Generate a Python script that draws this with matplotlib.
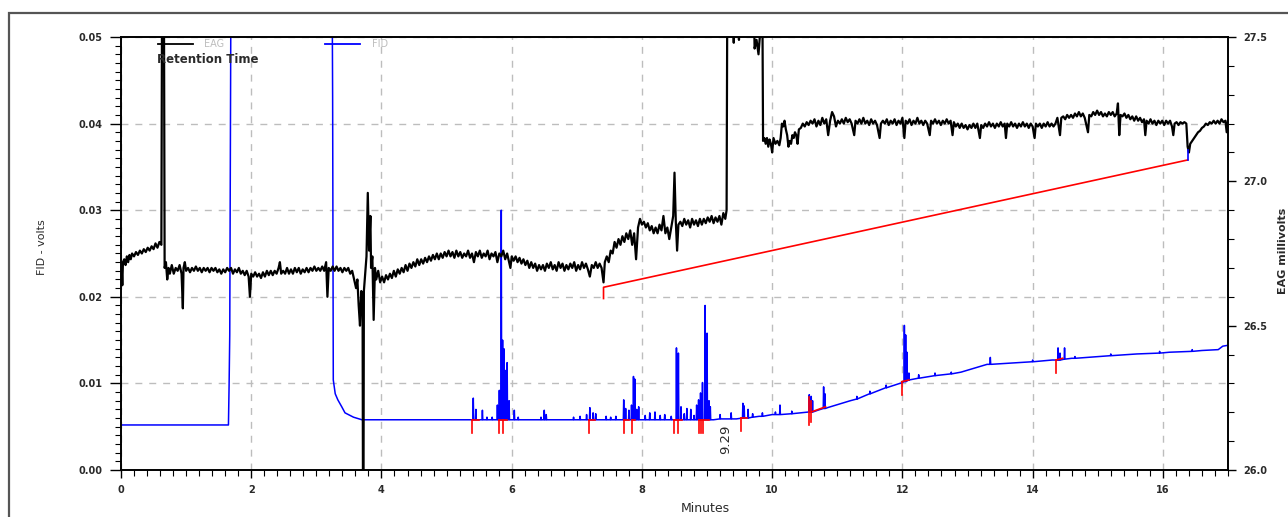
import matplotlib
matplotlib.use('Agg')
import matplotlib.pyplot as plt
from matplotlib.lines import Line2D
from matplotlib.patches import Rectangle
from matplotlib.ticker import MultipleLocator, FormatStrFormatter

# ---- data ----
# EAG signal, millivolts (right axis). Values above 27.5 / below 26.0 are clipped.
eag_points = [
    (0.00, 26.66), (0.01, 26.70), (0.02, 26.64), (0.03, 26.72), (0.05, 26.73), (0.07, 26.71),
    (0.09, 26.74), (0.11, 26.72), (0.13, 26.745), (0.15, 26.73), (0.17, 26.75), (0.20, 26.74),
    (0.23, 26.755), (0.26, 26.745), (0.29, 26.76), (0.32, 26.75), (0.35, 26.765), (0.38, 26.755),
    (0.41, 26.77), (0.44, 26.76), (0.47, 26.775), (0.50, 26.765), (0.53, 26.785), (0.56, 26.77),
    (0.59, 26.79), (0.62, 26.78), (0.63, 27.60), (0.66, 27.60), (0.67, 26.70),
    (0.69, 26.72), (0.71, 26.66), (0.73, 26.70), (0.75, 26.68), (0.78, 26.71), (0.81, 26.68),
    (0.84, 26.70), (0.87, 26.69), (0.90, 26.71), (0.93, 26.68), (0.95, 26.56), (0.96, 26.70),
    (0.98, 26.72), (1.00, 26.69), (1.03, 26.70), (1.06, 26.685), (1.09, 26.70), (1.12, 26.69),
    (1.15, 26.705), (1.18, 26.69), (1.21, 26.70), (1.24, 26.685), (1.27, 26.70), (1.30, 26.69),
    (1.33, 26.70), (1.36, 26.685), (1.39, 26.70), (1.42, 26.69), (1.45, 26.70), (1.48, 26.685),
    (1.51, 26.695), (1.54, 26.68), (1.57, 26.695), (1.60, 26.685), (1.63, 26.70), (1.66, 26.69),
    (1.69, 26.70), (1.72, 26.68), (1.75, 26.695), (1.78, 26.685), (1.81, 26.70), (1.84, 26.68),
    (1.87, 26.69), (1.90, 26.675), (1.93, 26.69), (1.96, 26.67), (1.98, 26.60), (2.00, 26.68),
    (2.03, 26.67), (2.06, 26.685), (2.09, 26.67), (2.12, 26.68), (2.15, 26.665), (2.18, 26.685),
    (2.21, 26.67), (2.24, 26.69), (2.27, 26.675), (2.30, 26.69), (2.33, 26.675), (2.36, 26.69),
    (2.39, 26.68), (2.42, 26.70), (2.44, 26.72), (2.46, 26.68), (2.49, 26.69), (2.52, 26.68),
    (2.55, 26.70), (2.58, 26.68), (2.61, 26.695), (2.64, 26.68), (2.67, 26.70), (2.70, 26.685),
    (2.73, 26.70), (2.76, 26.68), (2.79, 26.695), (2.82, 26.685), (2.85, 26.70), (2.88, 26.685),
    (2.91, 26.70), (2.94, 26.69), (2.97, 26.705), (3.00, 26.69), (3.03, 26.70), (3.06, 26.69),
    (3.09, 26.705), (3.12, 26.69), (3.15, 26.72), (3.17, 26.60), (3.19, 26.70), (3.22, 26.69),
    (3.25, 26.705), (3.28, 26.69), (3.31, 26.705), (3.34, 26.69), (3.37, 26.70), (3.40, 26.685),
    (3.43, 26.70), (3.46, 26.69), (3.49, 26.70), (3.52, 26.68), (3.55, 26.69), (3.58, 26.66),
    (3.61, 26.63), (3.63, 26.66), (3.65, 26.57), (3.67, 26.50), (3.69, 26.62), (3.71, 26.55),
    (3.72, 25.50), (3.73, 26.62), (3.75, 26.68), (3.77, 26.74), (3.79, 26.96), (3.81, 26.76),
    (3.83, 26.88), (3.84, 26.70), (3.86, 26.74), (3.88, 26.52), (3.90, 26.70), (3.92, 26.66),
    (3.95, 26.69), (3.98, 26.65), (4.01, 26.67), (4.04, 26.65), (4.07, 26.675), (4.10, 26.66),
    (4.13, 26.68), (4.16, 26.665), (4.19, 26.69), (4.22, 26.67), (4.25, 26.695), (4.28, 26.68),
    (4.31, 26.70), (4.34, 26.685), (4.37, 26.71), (4.40, 26.69), (4.43, 26.715), (4.46, 26.70),
    (4.49, 26.72), (4.52, 26.705), (4.55, 26.73), (4.58, 26.71), (4.61, 26.73), (4.64, 26.715),
    (4.67, 26.735), (4.70, 26.72), (4.73, 26.74), (4.76, 26.725), (4.79, 26.745), (4.82, 26.73),
    (4.85, 26.75), (4.88, 26.73), (4.91, 26.75), (4.94, 26.735), (4.97, 26.755), (5.00, 26.74),
    (5.03, 26.76), (5.06, 26.74), (5.09, 26.755), (5.12, 26.735), (5.15, 26.76), (5.18, 26.74),
    (5.21, 26.755), (5.24, 26.735), (5.27, 26.75), (5.30, 26.74), (5.33, 26.76), (5.36, 26.735),
    (5.39, 26.75), (5.42, 26.72), (5.45, 26.755), (5.48, 26.74), (5.51, 26.76), (5.54, 26.735),
    (5.57, 26.75), (5.60, 26.74), (5.63, 26.76), (5.66, 26.73), (5.69, 26.75), (5.72, 26.74),
    (5.75, 26.755), (5.78, 26.72), (5.81, 26.75), (5.84, 26.74), (5.87, 26.76), (5.90, 26.73),
    (5.93, 26.75), (5.96, 26.72), (5.98, 26.70), (6.00, 26.74), (6.03, 26.725), (6.06, 26.74),
    (6.09, 26.72), (6.12, 26.735), (6.15, 26.715), (6.18, 26.73), (6.21, 26.71), (6.24, 26.725),
    (6.27, 26.70), (6.30, 26.72), (6.33, 26.70), (6.36, 26.715), (6.39, 26.69), (6.42, 26.71),
    (6.45, 26.695), (6.48, 26.71), (6.51, 26.69), (6.54, 26.715), (6.57, 26.70), (6.60, 26.72),
    (6.63, 26.695), (6.66, 26.71), (6.69, 26.69), (6.72, 26.72), (6.75, 26.70), (6.78, 26.715),
    (6.81, 26.69), (6.84, 26.71), (6.87, 26.695), (6.90, 26.715), (6.93, 26.70), (6.96, 26.72),
    (6.99, 26.69), (7.02, 26.71), (7.05, 26.695), (7.08, 26.72), (7.11, 26.70), (7.14, 26.715),
    (7.17, 26.695), (7.20, 26.67), (7.23, 26.71), (7.26, 26.70), (7.29, 26.72), (7.32, 26.70),
    (7.35, 26.715), (7.38, 26.70), (7.41, 26.65), (7.43, 26.72),
    (7.46, 26.74), (7.49, 26.72), (7.52, 26.76), (7.55, 26.75), (7.58, 26.79), (7.61, 26.77),
    (7.64, 26.80), (7.67, 26.78), (7.70, 26.81), (7.73, 26.79), (7.76, 26.82), (7.79, 26.80),
    (7.82, 26.83), (7.85, 26.78), (7.88, 26.82), (7.91, 26.73), (7.94, 26.84), (7.97, 26.87),
    (8.00, 26.85), (8.03, 26.86), (8.06, 26.84), (8.09, 26.855), (8.12, 26.83), (8.15, 26.845),
    (8.18, 26.82), (8.21, 26.84), (8.24, 26.82), (8.27, 26.85), (8.30, 26.83), (8.33, 26.88),
    (8.36, 26.82), (8.39, 26.84), (8.42, 26.80), (8.45, 26.84), (8.48, 26.88), (8.50, 27.03),
    (8.52, 26.86), (8.54, 26.76), (8.56, 26.85), (8.59, 26.86), (8.62, 26.845), (8.65, 26.87),
    (8.68, 26.85), (8.71, 26.865), (8.74, 26.84), (8.77, 26.87), (8.80, 26.85), (8.83, 26.865),
    (8.86, 26.845), (8.89, 26.87), (8.92, 26.85), (8.95, 26.87), (8.98, 26.855), (9.01, 26.875),
    (9.04, 26.86), (9.07, 26.88), (9.10, 26.855), (9.13, 26.875), (9.16, 26.86), (9.19, 26.88),
    (9.22, 26.85), (9.25, 26.89), (9.28, 26.87), (9.30, 26.90), (9.31, 27.60),
    (9.40, 27.60), (9.41, 27.48), (9.42, 27.60), (9.48, 27.60), (9.49, 27.49), (9.50, 27.60),
    (9.72, 27.60), (9.73, 27.46), (9.76, 27.49), (9.79, 27.44), (9.81, 27.50), (9.82, 27.60),
    (9.85, 27.60), (9.86, 27.14),
    (9.88, 27.15), (9.90, 27.13), (9.92, 27.15), (9.94, 27.12), (9.96, 27.145), (9.98, 27.13),
    (10.00, 27.10), (10.02, 27.15), (10.05, 27.13), (10.08, 27.14), (10.11, 27.125), (10.13, 27.15),
    (10.15, 27.20), (10.17, 27.19), (10.19, 27.21), (10.21, 27.18), (10.23, 27.16), (10.25, 27.12),
    (10.27, 27.14), (10.29, 27.13), (10.31, 27.16), (10.33, 27.15), (10.35, 27.17), (10.37, 27.16),
    (10.39, 27.13), (10.41, 27.18), (10.44, 27.185), (10.47, 27.20), (10.50, 27.19), (10.53, 27.205),
    (10.56, 27.195), (10.59, 27.21), (10.62, 27.20), (10.65, 27.215), (10.68, 27.19), (10.71, 27.21),
    (10.74, 27.195), (10.77, 27.22), (10.80, 27.20), (10.83, 27.215), (10.86, 27.16), (10.89, 27.21),
    (10.92, 27.24), (10.95, 27.225), (10.98, 27.19), (11.01, 27.21), (11.04, 27.20), (11.07, 27.215),
    (11.10, 27.20), (11.13, 27.22), (11.16, 27.205), (11.19, 27.215), (11.22, 27.20), (11.26, 27.16),
    (11.28, 27.21), (11.31, 27.20), (11.34, 27.215), (11.37, 27.20), (11.40, 27.22), (11.43, 27.20),
    (11.46, 27.21), (11.49, 27.195), (11.52, 27.215), (11.55, 27.20), (11.58, 27.21), (11.61, 27.195),
    (11.65, 27.15), (11.67, 27.20), (11.70, 27.21), (11.73, 27.20), (11.76, 27.215), (11.79, 27.195),
    (11.82, 27.21), (11.85, 27.20), (11.88, 27.215), (11.91, 27.195), (11.94, 27.21), (11.97, 27.20),
    (12.00, 27.22), (12.03, 27.15), (12.05, 27.21), (12.08, 27.20), (12.11, 27.215), (12.14, 27.195),
    (12.17, 27.21), (12.20, 27.20), (12.23, 27.22), (12.26, 27.20), (12.29, 27.21), (12.32, 27.195),
    (12.35, 27.21), (12.38, 27.20), (12.42, 27.16), (12.44, 27.21), (12.47, 27.20), (12.50, 27.215),
    (12.53, 27.20), (12.56, 27.21), (12.59, 27.195), (12.62, 27.21), (12.65, 27.20), (12.68, 27.215),
    (12.71, 27.20), (12.74, 27.21), (12.77, 27.16), (12.79, 27.205), (12.82, 27.19), (12.85, 27.20),
    (12.88, 27.185), (12.91, 27.20), (12.94, 27.185), (12.97, 27.195), (13.00, 27.18), (13.03, 27.195),
    (13.06, 27.185), (13.09, 27.20), (13.12, 27.185), (13.15, 27.20), (13.19, 27.15), (13.21, 27.195),
    (13.24, 27.185), (13.27, 27.20), (13.30, 27.19), (13.33, 27.205), (13.36, 27.19), (13.39, 27.20),
    (13.42, 27.185), (13.45, 27.20), (13.48, 27.19), (13.51, 27.205), (13.54, 27.19), (13.57, 27.20),
    (13.59, 27.15), (13.61, 27.20), (13.64, 27.19), (13.67, 27.205), (13.70, 27.19), (13.73, 27.20),
    (13.76, 27.185), (13.79, 27.20), (13.82, 27.19), (13.85, 27.205), (13.88, 27.19), (13.91, 27.20),
    (13.94, 27.185), (13.97, 27.20), (14.00, 27.19), (14.03, 27.15), (14.05, 27.20), (14.08, 27.19),
    (14.11, 27.20), (14.14, 27.185), (14.17, 27.20), (14.20, 27.19), (14.23, 27.205), (14.26, 27.19),
    (14.29, 27.20), (14.32, 27.19), (14.35, 27.20), (14.38, 27.22), (14.42, 27.16), (14.44, 27.22),
    (14.47, 27.225), (14.50, 27.215), (14.53, 27.23), (14.56, 27.22), (14.59, 27.23), (14.62, 27.22),
    (14.65, 27.235), (14.68, 27.225), (14.71, 27.24), (14.74, 27.225), (14.77, 27.235), (14.80, 27.22),
    (14.85, 27.17), (14.87, 27.23), (14.90, 27.225), (14.93, 27.24), (14.96, 27.23), (14.99, 27.245),
    (15.02, 27.23), (15.05, 27.24), (15.08, 27.225), (15.11, 27.235), (15.14, 27.225), (15.17, 27.24),
    (15.20, 27.23), (15.23, 27.24), (15.26, 27.225), (15.29, 27.235), (15.31, 27.27), (15.33, 27.16),
    (15.35, 27.23), (15.38, 27.225), (15.41, 27.235), (15.44, 27.22), (15.47, 27.23), (15.50, 27.215),
    (15.53, 27.225), (15.56, 27.21), (15.59, 27.225), (15.62, 27.21), (15.65, 27.22), (15.68, 27.205),
    (15.71, 27.215), (15.73, 27.16), (15.75, 27.21), (15.78, 27.20), (15.81, 27.215), (15.84, 27.20),
    (15.87, 27.21), (15.90, 27.195), (15.93, 27.21), (15.96, 27.20), (15.99, 27.21), (16.02, 27.195),
    (16.05, 27.21), (16.08, 27.20), (16.11, 27.21), (16.14, 27.19), (16.16, 27.16), (16.18, 27.20),
    (16.21, 27.205), (16.24, 27.195), (16.27, 27.205), (16.30, 27.20), (16.33, 27.205), (16.36, 27.20),
    (16.38, 27.12), (16.40, 27.10), (16.42, 27.13), (16.45, 27.14), (16.48, 27.15), (16.51, 27.16),
    (16.54, 27.17), (16.57, 27.175), (16.60, 27.185), (16.63, 27.19), (16.66, 27.20), (16.69, 27.195),
    (16.72, 27.205), (16.75, 27.20), (16.78, 27.21), (16.81, 27.20), (16.84, 27.21), (16.87, 27.20),
    (16.90, 27.215), (16.93, 27.205), (16.96, 27.21), (16.98, 27.17), (17.00, 27.21),
]

# EAG integration baseline (red) and its closing mark (blue), millivolts
eag_baseline = [(7.41, 26.594), (7.41, 26.633), (16.38, 27.074)]
eag_close = [(16.38, 27.074), (16.38, 27.107)]

# FID baseline, volts (left axis); 0.06 = off-scale (clipped)
fid_base = [
    (0.00, 0.0052), (1.65, 0.0052), (1.66, 0.0098), (1.67, 0.0156), (1.69, 0.0600),
    (3.24, 0.0600), (3.25, 0.0430), (3.26, 0.0104), (3.29, 0.0088), (3.33, 0.0081),
    (3.39, 0.0073), (3.44, 0.0066), (3.57, 0.0061), (3.70, 0.0058), (9.10, 0.0058),
    (9.45, 0.0059), (9.60, 0.0060), (9.80, 0.0062), (10.00, 0.0064), (10.30, 0.0065),
    (10.55, 0.0067), (10.70, 0.0069), (10.85, 0.0072), (11.20, 0.0080), (11.30, 0.0082),
    (11.50, 0.0088), (11.75, 0.0095), (12.00, 0.0101), (12.10, 0.0104), (12.50, 0.0109),
    (12.90, 0.0113), (13.30, 0.0122), (13.80, 0.0124), (14.30, 0.0127), (14.60, 0.0129),
    (15.00, 0.0131), (15.60, 0.0134), (16.10, 0.0136), (16.60, 0.0138), (16.85, 0.0139),
    (16.92, 0.0143), (17.00, 0.0144),
]

# FID peaks: (time, baseline under peak, apex), volts
fid_peaks = [
    (5.41, 0.0058, 0.0083), (5.45, 0.0058, 0.0070), (5.55, 0.0058, 0.0069), (5.62, 0.0058, 0.0061),
    (5.70, 0.0058, 0.0061), (5.78, 0.0058, 0.0075), (5.81, 0.0058, 0.0092), (5.84, 0.0058, 0.0300),
    (5.86, 0.0058, 0.0150), (5.88, 0.0058, 0.0140), (5.90, 0.0058, 0.0115), (5.93, 0.0058, 0.0124),
    (5.96, 0.0058, 0.0080), (6.04, 0.0058, 0.0069), (6.10, 0.0058, 0.0061), (6.45, 0.0058, 0.0061),
    (6.50, 0.0058, 0.0069), (6.53, 0.0058, 0.0064), (6.95, 0.0058, 0.0061), (7.05, 0.0058, 0.0062),
    (7.15, 0.0058, 0.0064), (7.20, 0.0058, 0.0072), (7.25, 0.0058, 0.0066), (7.29, 0.0058, 0.0065),
    (7.45, 0.0058, 0.0062), (7.52, 0.0058, 0.0061), (7.60, 0.0058, 0.0062), (7.72, 0.0058, 0.0081),
    (7.75, 0.0058, 0.0071), (7.80, 0.0058, 0.0069), (7.84, 0.0058, 0.0075), (7.87, 0.0058, 0.0108),
    (7.89, 0.0058, 0.0105), (7.92, 0.0058, 0.0070), (7.95, 0.0058, 0.0073), (8.05, 0.0058, 0.0063),
    (8.12, 0.0058, 0.0066), (8.20, 0.0058, 0.0067), (8.28, 0.0058, 0.0063), (8.35, 0.0058, 0.0064),
    (8.45, 0.0058, 0.0062), (8.53, 0.0058, 0.0141), (8.56, 0.0058, 0.0135), (8.60, 0.0058, 0.0073),
    (8.65, 0.0058, 0.0065), (8.69, 0.0058, 0.0071), (8.75, 0.0058, 0.0070), (8.80, 0.0058, 0.0063),
    (8.84, 0.0058, 0.0075), (8.87, 0.0058, 0.0081), (8.90, 0.0058, 0.0089), (8.93, 0.0058, 0.0101),
    (8.97, 0.0058, 0.0190), (9.00, 0.0058, 0.0158), (9.03, 0.0058, 0.0080), (9.05, 0.0058, 0.0073),
    (9.20, 0.0059, 0.0064), (9.37, 0.0059, 0.0066), (9.55, 0.0060, 0.0077), (9.57, 0.0060, 0.0074),
    (9.63, 0.0060, 0.0070), (9.70, 0.0061, 0.0065), (9.85, 0.0062, 0.0066), (10.05, 0.0064, 0.0067),
    (10.12, 0.0064, 0.0075), (10.30, 0.0065, 0.0068), (10.57, 0.0067, 0.0087), (10.60, 0.0067, 0.0085),
    (10.62, 0.0067, 0.0080), (10.79, 0.0071, 0.0096), (10.81, 0.0071, 0.0088), (11.30, 0.0082, 0.0085),
    (11.50, 0.0088, 0.0091), (11.75, 0.0095, 0.0098), (12.03, 0.0102, 0.0167), (12.05, 0.0102, 0.0156),
    (12.07, 0.0103, 0.0136), (12.10, 0.0104, 0.0112), (12.25, 0.0106, 0.0110), (12.50, 0.0109, 0.0112),
    (12.75, 0.0111, 0.0113), (13.35, 0.0122, 0.0130), (14.00, 0.0125, 0.0127), (14.39, 0.0127, 0.0141),
    (14.42, 0.0127, 0.0135), (14.49, 0.0128, 0.0141), (14.65, 0.0129, 0.0131), (15.20, 0.0132, 0.0134),
    (15.95, 0.0135, 0.0137), (16.45, 0.0137, 0.0139),
]

# integration marks on the FID trace: (time, top, bottom) and baseline runs (t0, v0, t1, v1)
red_ticks = [
    (5.39, 0.0058, 0.0043), (5.81, 0.0058, 0.0043), (5.87, 0.0058, 0.0043), (7.19, 0.0058, 0.0043),
    (7.73, 0.0058, 0.0043), (7.85, 0.0058, 0.0043), (8.50, 0.0058, 0.0043), (8.56, 0.0058, 0.0043),
    (8.87, 0.0058, 0.0043), (8.90, 0.0058, 0.0043), (8.94, 0.0058, 0.0043), (9.52, 0.0060, 0.0045),
    (10.57, 0.0084, 0.0052), (10.60, 0.0080, 0.0055), (11.99, 0.0102, 0.0087), (14.36, 0.0127, 0.0112),
]
red_runs = [
    (5.39, 0.0058, 5.50, 0.0058), (5.81, 0.0058, 5.93, 0.0058), (7.19, 0.0058, 7.28, 0.0058),
    (7.73, 0.0058, 7.80, 0.0058), (7.85, 0.0058, 7.90, 0.0058), (8.50, 0.0058, 8.62, 0.0058),
    (8.87, 0.0058, 9.03, 0.0058), (9.52, 0.0060, 9.62, 0.0060), (10.60, 0.0067, 10.82, 0.0073),
    (11.99, 0.0102, 12.10, 0.0104), (14.36, 0.0127, 14.46, 0.0129),
]

peak_label_time = 9.29
peak_label = '9.29'

TXT = '#2a2a2a'

fig = plt.figure(figsize=(12.88, 5.17), dpi=100)
fig.patches.append(Rectangle((9 / 1288, -0.1), 1.2, 1 - 13 / 517 + 0.1,
                             transform=fig.transFigure, fill=False,
                             edgecolor='#555555', lw=1.6))

ax = fig.add_axes([121 / 1288, 47 / 517, 1107 / 1288, 433 / 517])
ax2 = ax.twinx()

# ---- FID (left axis) ----
pts = list(fid_base)
for t, b, top in fid_peaks:
    pts += [(t - 0.006, b), (t, top), (t + 0.006, b)]
pts.sort()
ax.plot([p[0] for p in pts], [p[1] for p in pts], color='#0000ff', lw=1.1)

for t, top, bot in red_ticks:
    ax.plot([t, t], [bot, top], color='#ff0000', lw=1.2)
for t0, v0, t1, v1 in red_runs:
    ax.plot([t0, t1], [v0, v1], color='#ff0000', lw=1.2)

ax.text(peak_label_time, 0.0052, peak_label, rotation=90, ha='center', va='top',
        fontsize=9.5, color=TXT)

# ---- EAG (right axis) ----
ax2.plot([p[0] for p in eag_points], [p[1] for p in eag_points], color='black', lw=1.6)
ax2.plot([p[0] for p in eag_baseline], [p[1] for p in eag_baseline], color='#ff0000', lw=1.2)
ax2.plot([p[0] for p in eag_close], [p[1] for p in eag_close], color='#0000ff', lw=1.2)

# ---- axes ----
ax.set_xlim(0, 17)
ax.set_ylim(0, 0.05)
ax2.set_ylim(26.0, 27.5)

ax.xaxis.set_major_locator(MultipleLocator(2))
ax.xaxis.set_minor_locator(MultipleLocator(0.2))
ax.yaxis.set_major_locator(MultipleLocator(0.01))
ax.yaxis.set_minor_locator(MultipleLocator(0.001))
ax.yaxis.set_major_formatter(FormatStrFormatter('%.2f'))
ax2.yaxis.set_major_locator(MultipleLocator(0.5))
ax2.yaxis.set_minor_locator(MultipleLocator(0.1))
ax2.yaxis.set_major_formatter(FormatStrFormatter('%.1f'))

ax.grid(True, which='major', color='#bdbdbd', linestyle=(0, (5, 5)), lw=1.0)
ax.set_axisbelow(True)

ax.tick_params(axis='y', which='major', direction='out', length=8, width=1.0,
               labelsize=7, pad=5, labelcolor=TXT)
ax.tick_params(axis='y', which='minor', direction='out', length=4, width=0.8)
ax.tick_params(axis='x', which='major', direction='out', length=6, width=1.0,
               labelsize=7, pad=5, labelcolor=TXT)
ax.tick_params(axis='x', which='minor', direction='out', length=4, width=0.8)
ax2.tick_params(axis='y', which='major', direction='out', length=6, width=1.0,
                labelsize=7, pad=5, labelcolor=TXT)
ax2.tick_params(axis='y', which='minor', direction='out', length=4, width=0.8)
for lbl in ax.get_xticklabels() + ax.get_yticklabels() + ax2.get_yticklabels():
    lbl.set_fontweight('bold')

for s in ('top', 'left', 'bottom'):
    ax.spines[s].set_linewidth(1.4)
    ax2.spines[s].set_visible(False)
ax.spines['right'].set_visible(False)
ax2.spines['right'].set_linewidth(1.4)

ax.set_xlabel('Minutes', fontsize=9, color=TXT)
ax.xaxis.set_label_coords(0.528, -0.075)
ax.set_ylabel('FID - volts', fontsize=8, color=TXT)
ax.yaxis.set_label_coords(-0.067, 0.515)
ax2.set_ylabel('EAG millivolts', fontsize=8, fontweight='bold', color=TXT)
ax2.yaxis.set_label_coords(1.045, 0.506)

# legend
handles = [Line2D([], [], color='black', lw=1.3), Line2D([], [], color='#0000ff', lw=1.3)]
ax2.legend(handles, ['EAG', 'FID'], loc='upper left', bbox_to_anchor=(0.033, 0.995),
           ncol=2, frameon=False, fontsize=7, handlelength=3.6, handletextpad=1.2,
           columnspacing=10.4, borderpad=0, borderaxespad=0, labelcolor='#bdbdbd')
ax2.text(0.0325, 0.947, 'Retention Time', transform=ax2.transAxes, fontsize=8.5,
         fontweight='bold', color=TXT, ha='left', va='center')

fig.savefig('out.png', dpi=100)
